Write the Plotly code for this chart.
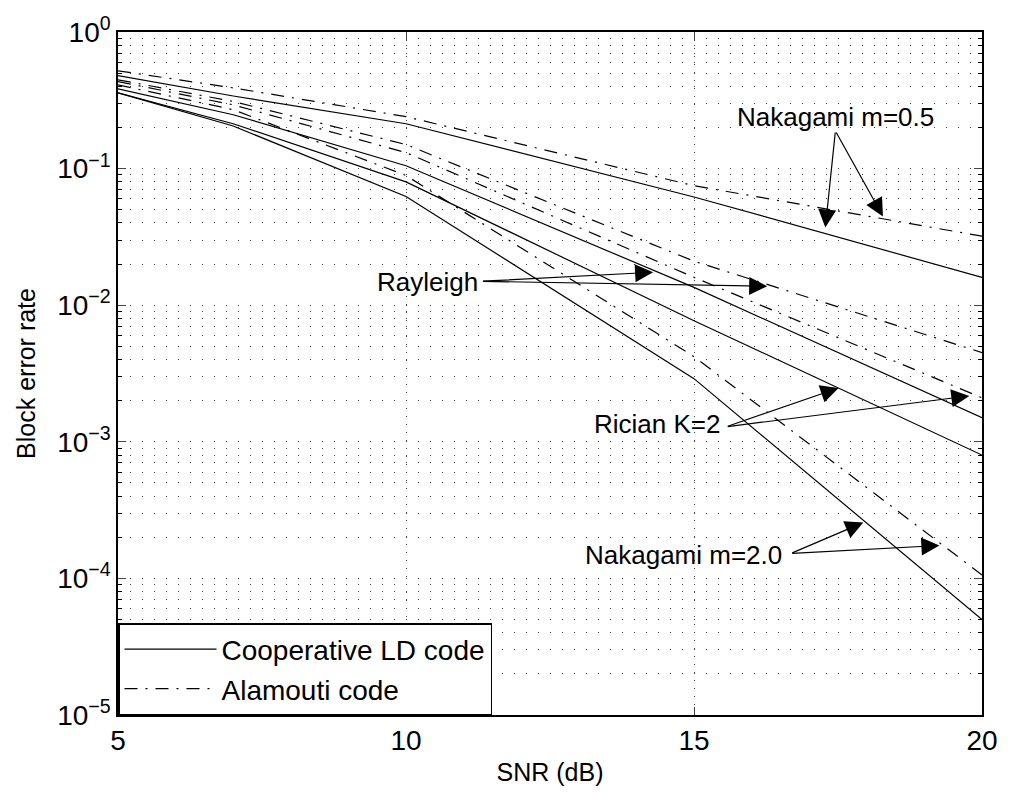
import plotly.graph_objects as go

snr = [5, 7, 10, 15, 20]
ld_nak05 = [0.48, 0.34, 0.213, 0.062, 0.016]
ala_nak05 = [0.52, 0.39, 0.24, 0.075, 0.032]
ld_ray = [0.384, 0.248, 0.105, 0.0135, 0.0015]
ala_ray = [0.447, 0.31, 0.15, 0.021, 0.0045]
ld_ric = [0.359, 0.213, 0.080, 0.0077, 0.0008]
ala_ric = [0.434, 0.293, 0.131, 0.016, 0.0021]
ld_nak2 = [0.359, 0.205, 0.0625, 0.0029, 0.00005]
ala_nak2 = [0.41, 0.27, 0.089, 0.0042, 0.000106]

ytick_vals = [1e-5, 1e-4, 1e-3, 1e-2, 1e-1, 1]
ytick_text = ["10<sup>−5</sup>", "10<sup>−4</sup>", "10<sup>−3</sup>",
              "10<sup>−2</sup>", "10<sup>−1</sup>", "10<sup>0</sup>"]
xtick_vals = [5, 10, 15, 20]

FONT = "Liberation Sans, Arial, sans-serif"
DASHDOT = "13px,8px,2px,8px"

fig = go.Figure()
ld_series = [ld_nak05, ld_ray, ld_ric, ld_nak2]
ala_series = [ala_nak05, ala_ray, ala_ric, ala_nak2]
for i, s in enumerate(ld_series):
    fig.add_trace(go.Scatter(x=snr, y=s, mode="lines",
                             line=dict(color="black", width=1.2),
                             name="Cooperative LD code", showlegend=(i == 0),
                             legendrank=1))
for i, s in enumerate(ala_series):
    fig.add_trace(go.Scatter(x=snr, y=s, mode="lines",
                             line=dict(color="black", width=1.2, dash=DASHDOT),
                             name="Alamouti code", showlegend=(i == 0),
                             legendrank=2))

minor_vals = [m * 10.0 ** e for e in range(-5, 0) for m in range(2, 10)]

fig.update_xaxes(range=[5, 20], tickvals=xtick_vals, ticks="inside", ticklen=8,
                 showline=True, mirror="ticks", linecolor="black", linewidth=1.5,
                 showgrid=True, gridcolor="#444", griddash="1px,7px", gridwidth=1,
                 zeroline=False,
                 tickfont=dict(size=28, family=FONT, color="black"),
                 title=dict(text="SNR (dB)", font=dict(size=25, family=FONT, color="black"),
                            standoff=8))
fig.update_yaxes(type="log", range=[-5, 0], tickvals=ytick_vals, ticktext=ytick_text,
                 ticks="inside", ticklen=8,
                 showline=True, mirror="ticks", linecolor="black", linewidth=1.5,
                 showgrid=True, gridcolor="#444", griddash="1px,11px", gridwidth=1,
                 zeroline=False,
                 minor=dict(tickvals=minor_vals, ticks="inside", ticklen=4,
                            showgrid=True, gridcolor="#444", griddash="1px,11px",
                            gridwidth=1, tickcolor="black"),
                 tickfont=dict(size=28, family=FONT, color="black"),
                 title=dict(text="Block error rate", font=dict(size=25, family=FONT, color="black"),
                            standoff=14))

# annotations: labels and arrows (arrow tip positions in data coords, y in log10)
labels = [
    dict(text="Nakagami m=0.5", x=17.455, y=-0.62, xanchor="center"),
    dict(text="Rayleigh", x=11.28, y=-1.832, xanchor="right"),
    dict(text="Rician K=2", x=15.49, y=-2.869, xanchor="right"),
    dict(text="Nakagami m=2.0", x=16.56, y=-3.825, xanchor="right"),
]
for lb in labels:
    fig.add_annotation(x=lb["x"], y=lb["y"], text=lb["text"], showarrow=False,
                       xanchor=lb["xanchor"], yanchor="middle",
                       font=dict(size=26, family=FONT, color="black"))

arrows = [
    # (tail_x, tail_logy, tip_x, tip_logy)
    (17.455, -0.725, 17.28, -1.431),
    (17.455, -0.725, 18.28, -1.350),
    (11.31, -1.825, 14.29, -1.759),
    (11.31, -1.825, 16.27, -1.861),
    (15.56, -2.89, 17.51, -2.606),
    (15.56, -2.89, 19.78, -2.664),
    (16.68, -3.818, 17.94, -3.591),
    (16.68, -3.818, 19.26, -3.759),
]
for tx, ty, hx, hy in arrows:
    fig.add_annotation(x=hx, y=hy, ax=tx, ay=ty, axref="x", ayref="y",
                       xref="x", yref="y", text="", showarrow=True,
                       arrowhead=2, arrowsize=3, arrowwidth=1.2,
                       arrowcolor="black", standoff=0, startstandoff=0)

fig.update_layout(
    width=1010, height=794,
    margin=dict(l=118, r=20, t=32, b=77),
    paper_bgcolor="white", plot_bgcolor="white",
    font=dict(family=FONT, color="black"),
    legend=dict(x=0, y=0, xanchor="left", yanchor="bottom",
                bgcolor="white", bordercolor="black", borderwidth=1.5,
                font=dict(size=28, family=FONT, color="black"),
                itemwidth=92, tracegroupgap=0),
)

fig.write_html("out.html")
